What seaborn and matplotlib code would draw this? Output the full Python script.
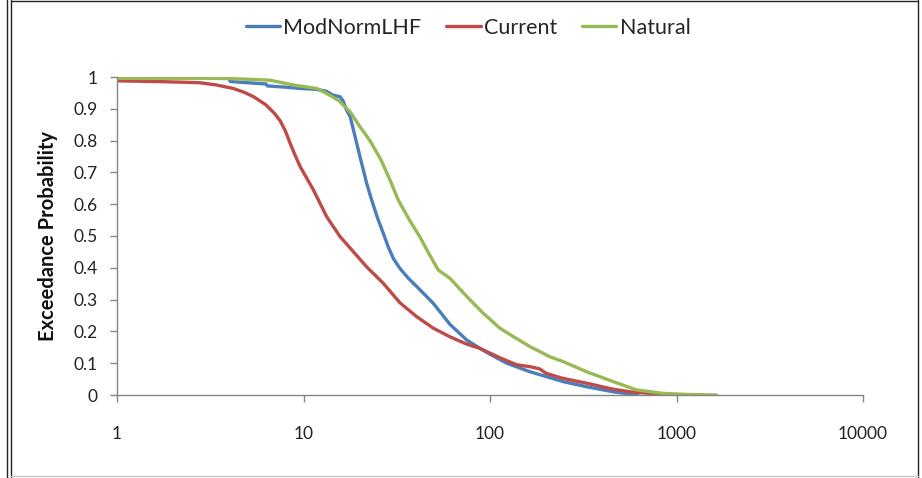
import matplotlib
matplotlib.use("Agg")
import matplotlib.pyplot as plt
from matplotlib.lines import Line2D
import numpy as np
import pandas as pd
import seaborn as sns

# Exceedance curves (x = magnitude, y = probability of exceedance)
mod_x = [3.95, 4.05, 5, 6.3, 6.4, 8, 9.6, 11.8, 13.3, 14.4, 15.7, 16.3, 17, 17.8,
         20, 21.8, 23.2, 25, 26.8, 28.5, 30.4, 32.9, 36.5, 40.5, 49.7, 61, 75, 88,
         100, 123, 164, 200, 247, 330, 458, 565, 620]
mod_y = [0.998, 0.986, 0.982, 0.978, 0.972, 0.968, 0.964, 0.961, 0.955, 0.943,
         0.938, 0.925, 0.896, 0.875, 0.754, 0.666, 0.613, 0.555, 0.508, 0.465,
         0.428, 0.398, 0.367, 0.341, 0.288, 0.222, 0.173, 0.147, 0.128, 0.10,
         0.073, 0.058, 0.042, 0.026, 0.01, 0.003, 0.0]

cur_x = [1, 1.85, 2.78, 3.4, 4.2, 4.8, 5.4, 6.3, 7.0, 7.5, 8.0, 8.5, 9.0, 9.6,
         11.3, 13.3, 15.7, 17.8, 21.8, 26.8, 32.9, 40.5, 49.7, 61, 75, 88, 113,
         139, 164, 185, 200, 247, 330, 458, 565, 750, 850]
cur_y = [0.988, 0.985, 0.982, 0.975, 0.964, 0.952, 0.938, 0.912, 0.885, 0.862,
         0.83, 0.79, 0.755, 0.718, 0.645, 0.561, 0.498, 0.462, 0.403, 0.351,
         0.29, 0.246, 0.21, 0.183, 0.16, 0.147, 0.117, 0.095, 0.089, 0.082,
         0.068, 0.052, 0.037, 0.018, 0.01, 0.004, 0.0]

nat_x = [1, 2, 3, 4, 5, 6.6, 8.8, 11.8, 13.8, 15.5, 17.8, 20, 22.7, 26, 29.1,
         32.2, 37, 42, 47, 52.8, 61, 75, 92, 113, 128, 164, 210, 247, 330, 458,
         610, 850, 1100, 1640]
nat_y = [0.996, 0.996, 0.996, 0.995, 0.993, 0.99, 0.975, 0.964, 0.943, 0.925,
         0.89, 0.845, 0.80, 0.74, 0.676, 0.613, 0.55, 0.498, 0.445, 0.393, 0.367,
         0.31, 0.257, 0.21, 0.19, 0.152, 0.12, 0.105, 0.073, 0.042, 0.016, 0.005,
         0.002, 0.0]

series_names = ["ModNormLHF", "Current", "Natural"]
series_colors = ["#4A7EBB", "#BE4B48", "#98B954"]
x_ticks = [1, 10, 100, 1000, 10000]
x_tick_labels = ["1", "10", "100", "1000", "10000"]
y_ticks = [0, 0.1, 0.2, 0.3, 0.4, 0.5, 0.6, 0.7, 0.8, 0.9, 1.0]
y_tick_labels = ["0", "0.1", "0.2", "0.3", "0.4", "0.5", "0.6", "0.7", "0.8", "0.9", "1"]

frames = []
for name, xs, ys in zip(series_names, [mod_x, cur_x, nat_x], [mod_y, cur_y, nat_y]):
    frames.append(pd.DataFrame({"x": xs, "y": ys, "series": name}))
df = pd.concat(frames, ignore_index=True)

sns.set_theme(style="white")
plt.rcParams["font.family"] = ["Lato", "DejaVu Sans"]

fig = plt.figure(figsize=(9.22, 4.78), dpi=100)
ax = fig.add_axes([117 / 922, 83 / 478, (863 - 117) / 922, (395 - 77) / 478])

sns.lineplot(data=df, x="x", y="y", hue="series", hue_order=series_names,
             palette=series_colors, linewidth=2.4, sort=False, estimator=None,
             ax=ax, legend=False)

ax.set_xscale("log")
ax.set_xlim(1, 10000)
ax.set_ylim(0, 1)
ax.set_xticks(x_ticks)
ax.set_xticklabels(x_tick_labels)
ax.xaxis.set_minor_locator(matplotlib.ticker.NullLocator())
ax.set_yticks(y_ticks)
ax.set_yticklabels(y_tick_labels)

axis_grey = "#868686"
for side in ["top", "right"]:
    ax.spines[side].set_visible(False)
for side in ["left", "bottom"]:
    ax.spines[side].set_color(axis_grey)
    ax.spines[side].set_linewidth(1.0)

ax.tick_params(axis="y", direction="out", length=5, width=1, color=axis_grey,
               labelsize=12.5, labelcolor="#222222", pad=9, left=True)
ax.tick_params(axis="x", direction="out", length=5, width=1, color=axis_grey,
               labelsize=12.5, labelcolor="#222222", pad=17, bottom=True)

ax.set_xlabel("")
ax.set_ylabel("Exceedance Probability", fontsize=14.5, fontweight="bold",
              color="#111111", labelpad=11)

handles = [Line2D([0], [0], color=c, lw=2.4) for c in series_colors]
fig.legend(handles, series_names, loc="center", bbox_to_anchor=(468 / 922, 1 - 28 / 478),
           ncol=3, frameon=False, fontsize=15.5, handlelength=1.6, handletextpad=0.15,
           columnspacing=1.15)

# Outer frame
frame_kw = dict(transform=fig.transFigure, color="#222222", lw=1.0)
fig.add_artist(Line2D([7 / 922, 7 / 922], [0, 1], **frame_kw))
fig.add_artist(Line2D([11 / 922, 11 / 922], [0, 1], **frame_kw))
fig.add_artist(Line2D([918 / 922, 918 / 922], [0, 1], **frame_kw))
fig.add_artist(Line2D([11 / 922, 918 / 922], [1 - 1 / 478, 1 - 1 / 478], **frame_kw))
fig.add_artist(Line2D([11 / 922, 918 / 922], [2 / 478, 2 / 478],
                      transform=fig.transFigure, color="#c8c8c8", lw=1.0))

fig.savefig("out.png", dpi=100, facecolor="white")
